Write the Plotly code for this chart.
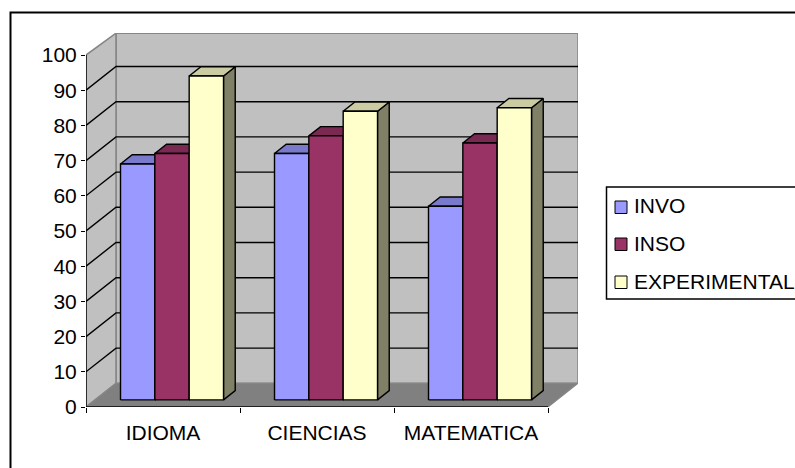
import plotly.graph_objects as go

categories = ["IDIOMA", "CIENCIAS", "MATEMATICA"]
series_names = ["INVO", "INSO", "EXPERIMENTAL"]
invo = [67, 70, 55]
inso = [70, 75, 73]
experimental = [92, 82, 83]
y_ticks = [0, 10, 20, 30, 40, 50, 60, 70, 80, 90, 100]

front_colors = ["#9999ff", "#993366", "#ffffcc"]
top_colors = ["#7a7acc", "#7a2952", "#cccca3"]
side_colors = ["#6b6bb3", "#6b2447", "#808066"]

# Oblique projection of the depth axis, in axis units
DEPTH_X = 0.195
DEPTH_Y = 6.73
BAR_START = 0.3
BAR_DEPTH = 0.39
BAR_WIDTH = 0.223
WALL_TOP = 106.2

WALL = "#c0c0c0"
FLOOR = "#808080"
EDGE = "#868686"
FONT = "Liberation Sans, Arial, sans-serif"
FONT_SIZE = 21

# Plot area placement on the 795x468 page
LEFT, RIGHT, TOP, BOTTOM = 86, 578, 33, 407


def page_x(px):
    return (px - LEFT) / (RIGHT - LEFT)


def page_y(py):
    return (BOTTOM - py) / (BOTTOM - TOP)


fig = go.Figure()


def face(xs, ys, fill=None, line="#000000", width=1.4, name=None, hover=False):
    fig.add_trace(go.Scatter(
        x=xs + xs[:1], y=ys + ys[:1], mode="lines",
        fill="toself" if fill else None, fillcolor=fill,
        line=dict(color=line, width=width), cliponaxis=False,
        name=name, hoverinfo="name" if hover else "skip", showlegend=False,
    ))


n = len(categories)

# Walls and floor of the box
face([DEPTH_X, n + DEPTH_X, n + DEPTH_X, DEPTH_X],
     [DEPTH_Y, DEPTH_Y, WALL_TOP, WALL_TOP], WALL, EDGE, 1.6)
face([0, DEPTH_X, DEPTH_X, 0], [0, DEPTH_Y, WALL_TOP, 100], WALL, EDGE, 1.6)
face([0, n, n + DEPTH_X, DEPTH_X], [0, 0, DEPTH_Y, DEPTH_Y], FLOOR, EDGE, 1.2)

# Gridlines run along the side wall, then across the back wall
for v in y_ticks[1:-1]:
    fig.add_trace(go.Scatter(
        x=[0, DEPTH_X, n + DEPTH_X], y=[v, v + DEPTH_Y, v + DEPTH_Y],
        mode="lines", line=dict(color="#000000", width=1.4),
        cliponaxis=False, hoverinfo="skip", showlegend=False,
    ))

# Axis lines
for xs, ys in (([0, 0], [0, 100]), ([0, n], [0, 0])):
    fig.add_trace(go.Scatter(x=xs, y=ys, mode="lines",
                             line=dict(color="#000000", width=1.4),
                             cliponaxis=False, hoverinfo="skip", showlegend=False))

# Each bar is three faces, painted back to front from its value
all_series = [invo, inso, experimental]
base = BAR_START * DEPTH_Y
shift_x = BAR_START * DEPTH_X
run_x = BAR_DEPTH * DEPTH_X
run_y = BAR_DEPTH * DEPTH_Y

for c in range(n):
    for s, values in enumerate(all_series):
        v = values[c]
        center = c + 0.5 + shift_x + (s - 1) * BAR_WIDTH
        x0, x1 = center - BAR_WIDTH / 2, center + BAR_WIDTH / 2
        y1 = base + v
        face([x1, x1 + run_x, x1 + run_x, x1],
             [base, base + run_y, y1 + run_y, y1], side_colors[s])
        face([x0, x1, x1 + run_x, x0 + run_x],
             [y1, y1, y1 + run_y, y1 + run_y], top_colors[s])
        face([x0, x1, x1, x0], [base, base, y1, y1], front_colors[s],
             name=f"{series_names[s]} {categories[c]}: {v}", hover=True)

shapes = [
    # Chart frame; its right and bottom edges sit beyond the page
    dict(type="rect", xref="paper", yref="paper",
         x0=page_x(10.5), x1=page_x(830), y0=page_y(12.5), y1=page_y(500),
         line=dict(color="#000000", width=2), layer="below"),
    # Legend box
    dict(type="rect", xref="paper", yref="paper",
         x0=page_x(606.5), x1=page_x(830), y0=page_y(187), y1=page_y(299),
         line=dict(color="#000000", width=1.5), fillcolor="#ffffff"),
]
annotations = []
for name, color, cy in zip(series_names, front_colors, [207, 244, 282]):
    shapes.append(dict(type="rect", xref="paper", yref="paper",
                       x0=page_x(615), x1=page_x(627),
                       y0=page_y(cy - 6), y1=page_y(cy + 6.5),
                       fillcolor=color, line=dict(color="#000000", width=1)))
    annotations.append(dict(xref="paper", yref="paper",
                            x=page_x(632), y=page_y(cy - 1),
                            text=name, showarrow=False,
                            xanchor="left", yanchor="middle",
                            font=dict(family=FONT, size=FONT_SIZE, color="#000000")))

fig.update_layout(
    width=795, height=468,
    margin=dict(l=LEFT, r=795 - RIGHT, t=TOP, b=468 - BOTTOM, pad=0),
    paper_bgcolor="#ffffff", plot_bgcolor="#ffffff",
    showlegend=False,
    shapes=shapes, annotations=annotations,
    font=dict(family=FONT, size=FONT_SIZE, color="#000000"),
    xaxis=dict(
        range=[0, (RIGHT - LEFT) / 154], showgrid=False, zeroline=False,
        showline=False, tickmode="array",
        tickvals=[i + 0.5 for i in range(n)], ticktext=categories,
        ticks="", ticklabelstandoff=11,
        minor=dict(tickmode="array", tickvals=list(range(n + 1)),
                   ticks="outside", ticklen=5, tickwidth=1.4,
                   tickcolor="#000000", showgrid=False),
    ),
    yaxis=dict(
        range=[0, (BOTTOM - TOP) / 3.52], showgrid=False, zeroline=False,
        showline=False, tickmode="array", tickvals=y_ticks,
        ticks="outside", ticklen=4, tickwidth=1.4, tickcolor="#000000",
    ),
)

fig.write_html("out.html")
